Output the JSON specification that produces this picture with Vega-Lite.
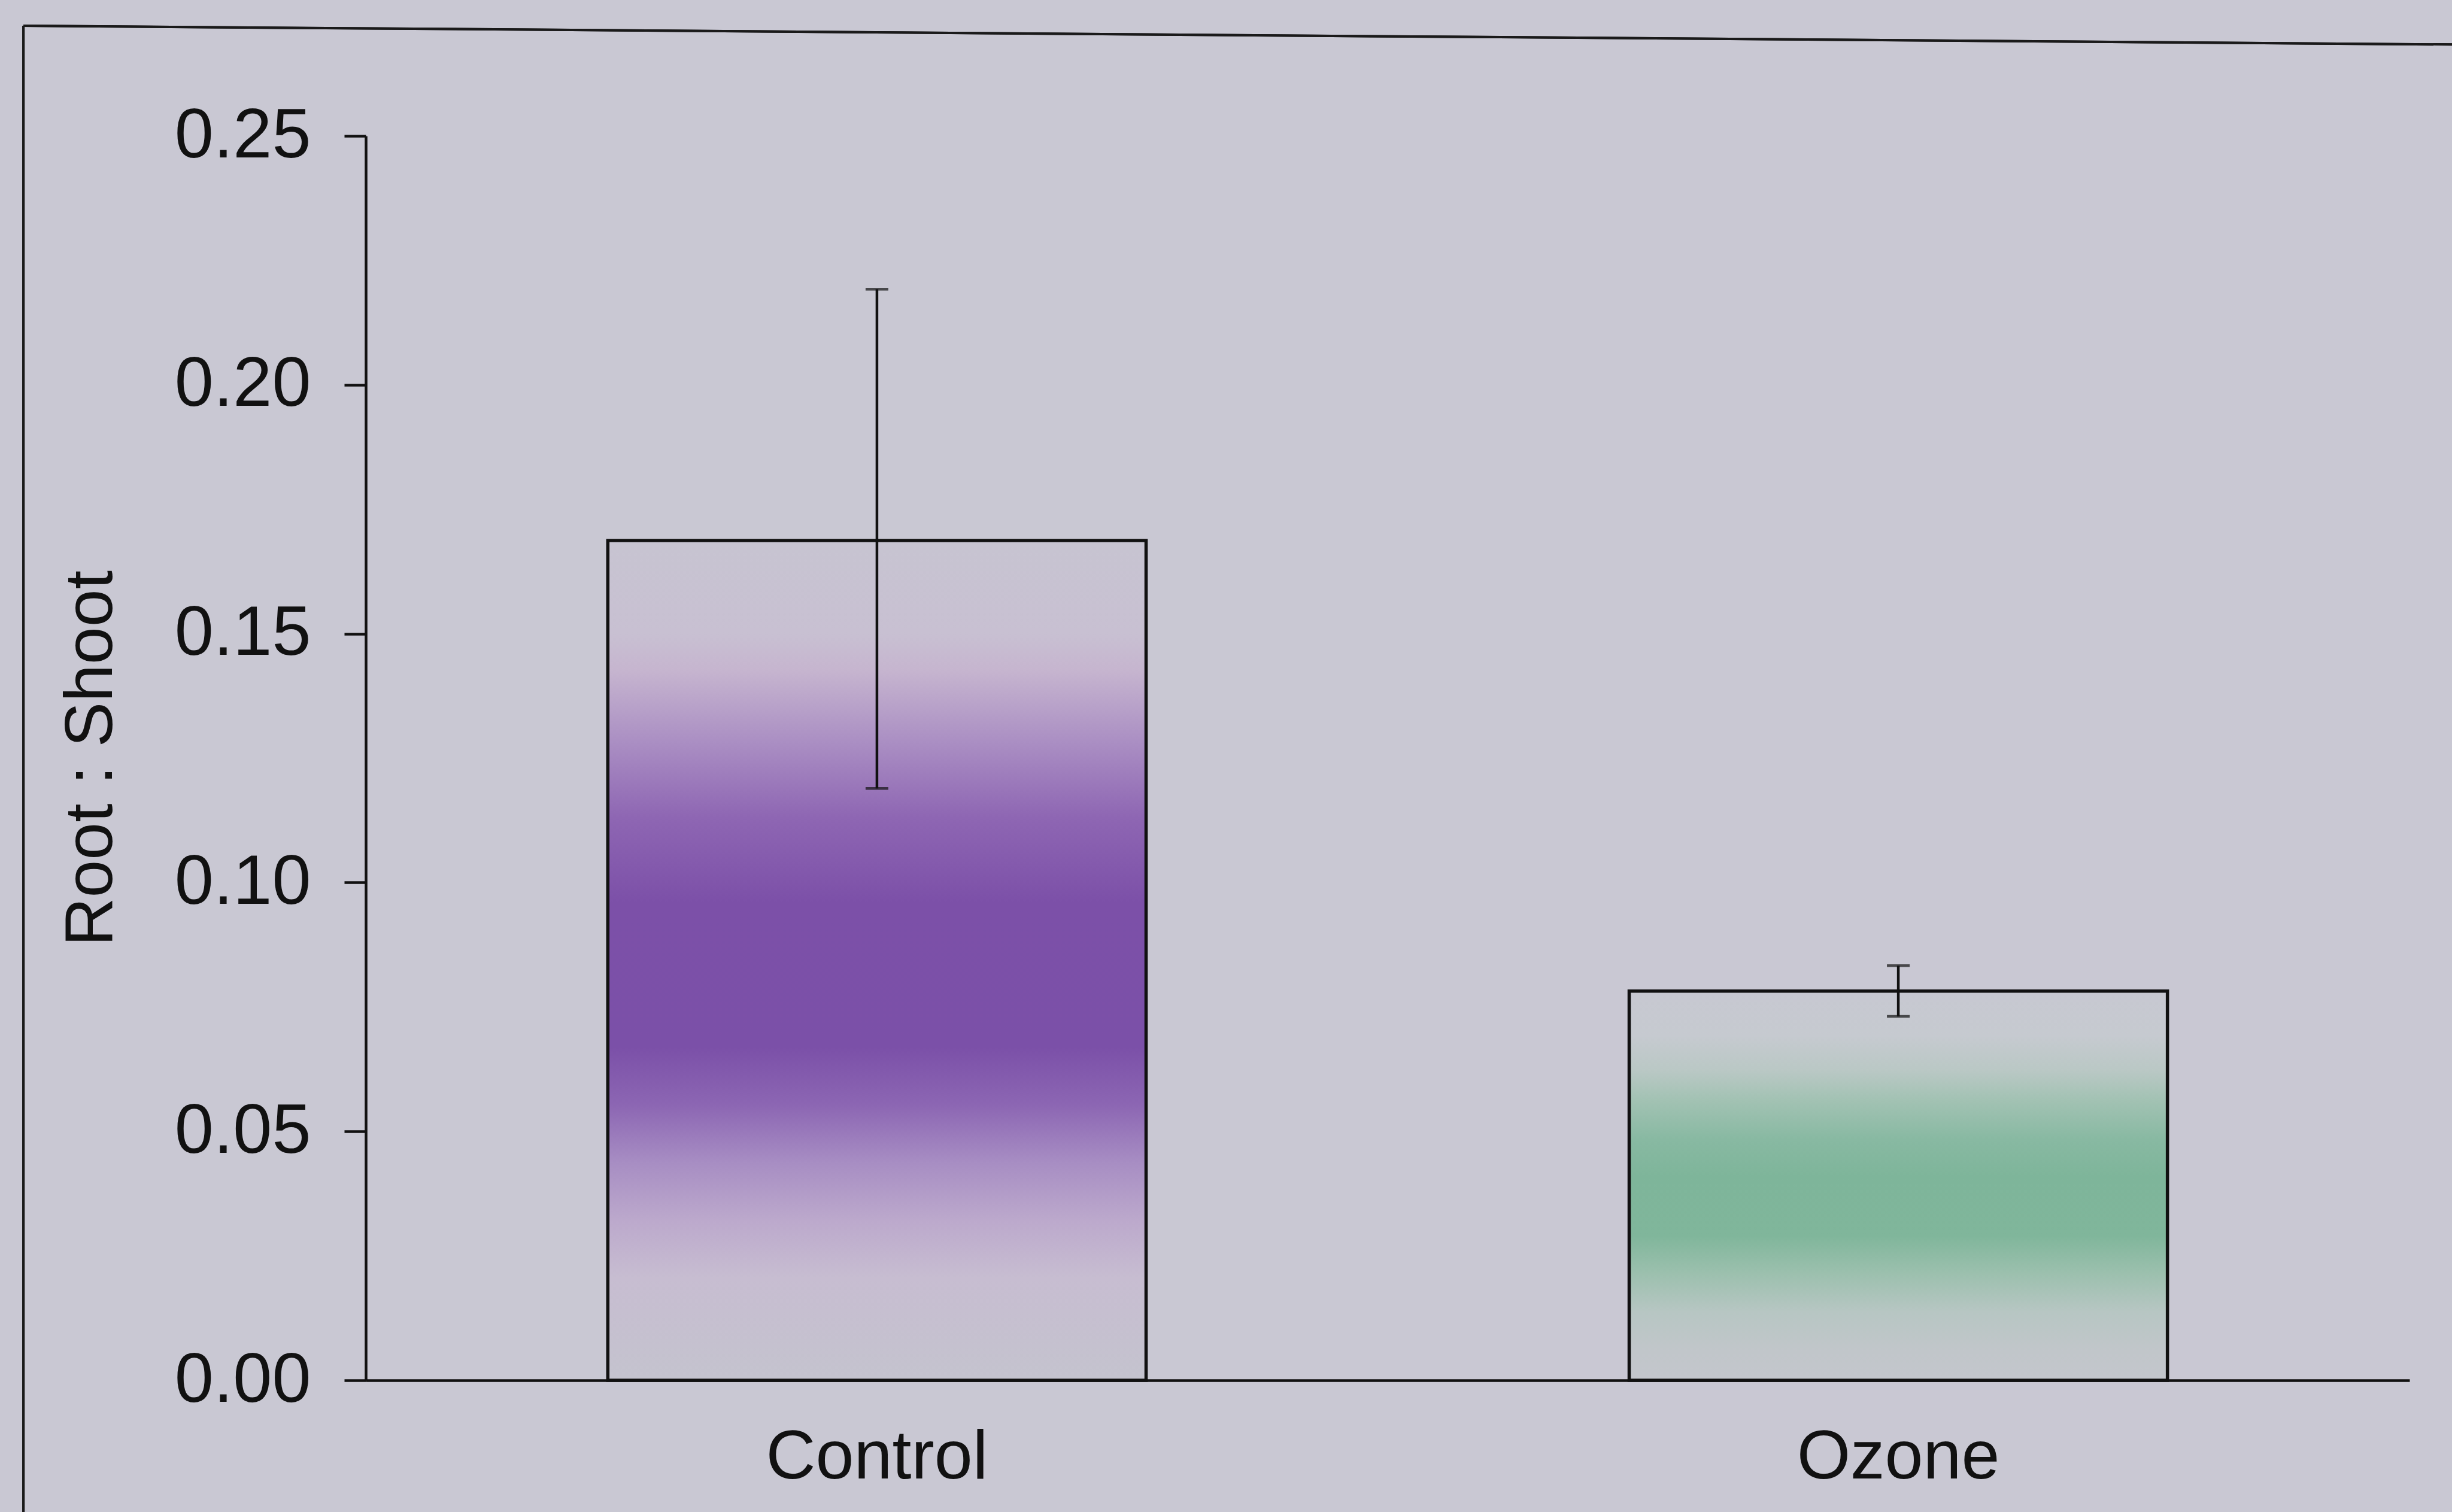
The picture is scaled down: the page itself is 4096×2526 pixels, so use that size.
{
  "$schema": "https://vega.github.io/schema/vega-lite/v6.json",
  "autosize": {"type": "none"},
  "padding": {"left": 611, "top": 227, "right": 71, "bottom": 220},
  "width": 3414,
  "height": 2079,
  "background": "#c9c8d3",
  "config": {
    "view": {"stroke": null},
    "font": "Liberation Sans",
    "axis": {
      "domainColor": "#111111",
      "domainWidth": 4.5,
      "tickColor": "#111111",
      "tickWidth": 4.5,
      "labelColor": "#111111",
      "labelFont": "Liberation Sans",
      "labelFontSize": 117,
      "labelLimit": 0,
      "titleFont": "Liberation Sans",
      "titleFontSize": 113,
      "titleFontWeight": "normal",
      "titleColor": "#111111",
      "titleLimit": 0,
      "grid": false
    },
    "axisX": {"ticks": false, "tickSize": 0, "labelAngle": 0, "labelFontSize": 115, "labelPadding": 72}
  },
  "data": {
    "values": [
      {"Treatment": "Control", "ratio": 0.1687, "lo": 0.1189, "hi": 0.2192},
      {"Treatment": "Ozone", "ratio": 0.0782, "lo": 0.0731, "hi": 0.0833}
    ]
  },
  "layer": [
    {
      "layer": [
        {
          "mark": {"type": "rule", "stroke": "#1a1a1a", "strokeWidth": 4},
          "encoding": {
            "x": {"datum": -0.1675, "type": "quantitative", "scale": {"domain": [0, 1]}, "axis": null},
            "y": {"datum": 1.0885, "type": "quantitative", "scale": {"domain": [0, 1], "nice": false, "zero": false}, "axis": null},
            "y2": {"datum": -0.12}
          }
        },
        {
          "mark": {"type": "rule", "stroke": "#1a1a1a", "strokeWidth": 4},
          "encoding": {
            "x": {"datum": -0.1675, "type": "quantitative", "scale": {"domain": [0, 1]}, "axis": null},
            "x2": {"datum": 1.03},
            "y": {"datum": 1.0885, "type": "quantitative", "scale": {"domain": [0, 1], "nice": false, "zero": false}, "axis": null},
            "y2": {"datum": 1.0733}
          }
        }
      ]
    },
    {
      "encoding": {
        "x": {
          "field": "Treatment",
          "type": "nominal",
          "title": null,
          "scale": {"domain": ["Control", "Ozone"], "paddingInner": 0.473, "paddingOuter": 0.237}
        }
      },
      "layer": [
        {
          "transform": [{"filter": "datum.Treatment === 'Control'"}],
          "mark": {
            "type": "bar",
            "stroke": "#111111",
            "strokeWidth": 5.5,
            "fill": {
              "gradient": "linear", "x1": 0, "y1": 0, "x2": 0, "y2": 1,
              "stops": [
                {"offset": 0, "color": "#c7c4d1"},
                {"offset": 0.111, "color": "#c8c0d2"},
                {"offset": 0.154, "color": "#c6b5cf"},
                {"offset": 0.241, "color": "#aa8ec3"},
                {"offset": 0.33, "color": "#8e66b3"},
                {"offset": 0.431, "color": "#7c50a8"},
                {"offset": 0.603, "color": "#7b50a8"},
                {"offset": 0.672, "color": "#8c66b3"},
                {"offset": 0.74, "color": "#a78dc3"},
                {"offset": 0.81, "color": "#bca9cc"},
                {"offset": 0.878, "color": "#c7bdd1"},
                {"offset": 1, "color": "#c4c3ce"}
              ]
            }
          },
          "encoding": {
            "y": {
              "field": "ratio",
              "type": "quantitative",
              "scale": {"domain": [0, 0.25], "nice": false},
              "title": "Root : Shoot",
              "axis": {
                "title": "Root : Shoot",
                "values": [0, 0.05, 0.1, 0.15, 0.2, 0.25],
                "format": ".2f",
                "tickSize": 36,
                "labelPadding": 56,
                "titlePadding": 201
              }
            }
          }
        },
        {
          "transform": [{"filter": "datum.Treatment === 'Ozone'"}],
          "mark": {
            "type": "bar",
            "stroke": "#111111",
            "strokeWidth": 5.5,
            "fill": {
              "gradient": "linear", "x1": 0, "y1": 0, "x2": 0, "y2": 1,
              "stops": [
                {"offset": 0, "color": "#c7c8d1"},
                {"offset": 0.114, "color": "#c6cad0"},
                {"offset": 0.203, "color": "#bac8c5"},
                {"offset": 0.281, "color": "#a2c2b3"},
                {"offset": 0.381, "color": "#88b9a2"},
                {"offset": 0.478, "color": "#7eb59a"},
                {"offset": 0.629, "color": "#80b69b"},
                {"offset": 0.726, "color": "#9cc0ae"},
                {"offset": 0.825, "color": "#b7c6c3"},
                {"offset": 0.923, "color": "#c1c6ca"},
                {"offset": 1, "color": "#c3c6cc"}
              ]
            }
          },
          "encoding": {
            "y": {"field": "ratio", "type": "quantitative", "title": "Root : Shoot", "scale": {"domain": [0, 0.25], "nice": false}}
          }
        },
        {
          "mark": {"type": "rule", "stroke": "#111111", "strokeWidth": 4.5},
          "encoding": {
            "y": {"field": "lo", "type": "quantitative", "title": "Root : Shoot", "scale": {"domain": [0, 0.25], "nice": false}},
            "y2": {"field": "hi"}
          }
        },
        {
          "mark": {"type": "tick", "color": "#111111", "size": 38, "thickness": 4.5, "orient": "horizontal"},
          "encoding": {
            "y": {"field": "lo", "type": "quantitative", "title": "Root : Shoot", "scale": {"domain": [0, 0.25], "nice": false}}
          }
        },
        {
          "mark": {"type": "tick", "color": "#111111", "size": 38, "thickness": 4.5, "orient": "horizontal"},
          "encoding": {
            "y": {"field": "hi", "type": "quantitative", "title": "Root : Shoot", "scale": {"domain": [0, 0.25], "nice": false}}
          }
        }
      ]
    }
  ],
  "resolve": {"scale": {"x": "independent", "y": "independent"}}
}
